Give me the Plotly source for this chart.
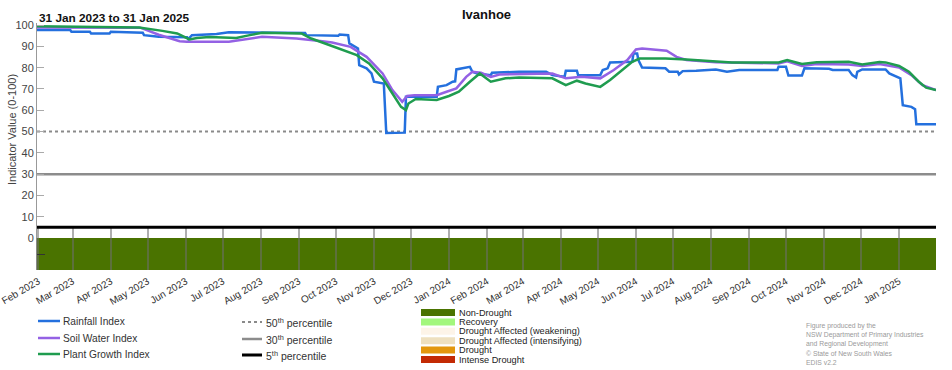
import pandas as pd
import plotly.graph_objects as go

# ---------------- data ----------------
date_start = "2023-01-31"
date_end = "2025-01-31"
station = "Ivanhoe"

rain_points = [
    ("2023-01-31", 97.7), ("2023-02-27", 97.7), ("2023-02-28", 96.9), ("2023-03-15", 96.9),
    ("2023-03-16", 96.1), ("2023-03-31", 96.1), ("2023-04-01", 96.9), ("2023-04-16", 96.6),
    ("2023-04-27", 96.4), ("2023-04-28", 95.3), ("2023-05-10", 94.5), ("2023-06-02", 94.3),
    ("2023-06-03", 93.4), ("2023-06-06", 95.3), ("2023-06-26", 95.8), ("2023-07-06", 96.7),
    ("2023-09-06", 96.3), ("2023-09-07", 95.3), ("2023-10-03", 95.0), ("2023-10-04", 95.6),
    ("2023-10-11", 95.3), ("2023-10-12", 91.4), ("2023-10-19", 89.0), ("2023-10-20", 81.2),
    ("2023-10-26", 79.7), ("2023-10-30", 77.3), ("2023-11-01", 73.4), ("2023-11-09", 72.6),
    ("2023-11-11", 49.3), ("2023-11-26", 49.5), ("2023-11-27", 66.3), ("2023-12-22", 66.3),
    ("2023-12-23", 71.0), ("2023-12-30", 71.8), ("2024-01-04", 73.4), ("2024-01-06", 73.6),
    ("2024-01-07", 79.2), ("2024-01-18", 80.4), ("2024-01-20", 78.1), ("2024-01-24", 77.3),
    ("2024-02-04", 76.5), ("2024-02-05", 77.6), ("2024-02-27", 78.1), ("2024-03-20", 78.1),
    ("2024-03-25", 76.5), ("2024-04-04", 75.7), ("2024-04-05", 78.6), ("2024-04-14", 78.6),
    ("2024-04-15", 76.5), ("2024-05-03", 76.5), ("2024-05-05", 78.9), ("2024-05-09", 79.7),
    ("2024-05-11", 82.5), ("2024-05-29", 82.8), ("2024-05-30", 86.7), ("2024-06-02", 86.7),
    ("2024-06-03", 83.6), ("2024-06-06", 80.1), ("2024-06-25", 79.7), ("2024-06-28", 78.1),
    ("2024-07-05", 78.1), ("2024-07-06", 76.8), ("2024-07-09", 78.4), ("2024-07-20", 78.6),
    ("2024-08-02", 79.0), ("2024-08-05", 79.2), ("2024-08-14", 78.1), ("2024-08-24", 78.9),
    ("2024-09-24", 78.9), ("2024-09-25", 80.4), ("2024-10-01", 80.4), ("2024-10-03", 76.3),
    ("2024-10-14", 76.3), ("2024-10-16", 79.7), ("2024-11-05", 79.5), ("2024-11-08", 78.9),
    ("2024-11-21", 78.9), ("2024-11-24", 76.5), ("2024-11-27", 75.4), ("2024-11-28", 78.1),
    ("2024-12-02", 79.2), ("2024-12-21", 79.2), ("2024-12-24", 77.3), ("2024-12-30", 75.7),
    ("2025-01-02", 75.0), ("2025-01-04", 62.4), ("2025-01-11", 61.6), ("2025-01-14", 60.5),
    ("2025-01-15", 53.4), ("2025-01-31", 53.4),
]

soil_points = [
    ("2023-01-31", 98.9), ("2023-04-25", 98.8), ("2023-05-10", 95.5), ("2023-05-27", 92.4),
    ("2023-06-02", 92.2), ("2023-07-06", 92.2), ("2023-08-02", 94.5), ("2023-08-30", 93.7),
    ("2023-09-20", 92.4), ("2023-09-28", 91.8), ("2023-10-13", 89.8), ("2023-10-26", 85.1),
    ("2023-11-08", 77.3), ("2023-11-16", 69.5), ("2023-11-24", 64.0), ("2023-11-28", 66.7),
    ("2023-12-04", 67.1), ("2023-12-22", 67.1), ("2023-12-30", 68.7), ("2024-01-07", 70.3),
    ("2024-01-15", 75.7), ("2024-01-20", 78.1), ("2024-01-27", 77.6), ("2024-02-04", 75.7),
    ("2024-02-11", 76.8), ("2024-02-27", 77.0), ("2024-03-25", 77.3), ("2024-04-05", 75.0),
    ("2024-04-18", 75.7), ("2024-05-03", 75.0), ("2024-05-14", 78.9), ("2024-05-25", 83.6),
    ("2024-06-01", 88.6), ("2024-06-06", 89.0), ("2024-06-26", 88.0), ("2024-07-04", 85.1),
    ("2024-07-12", 83.6), ("2024-08-05", 82.6), ("2024-09-25", 82.0), ("2024-10-02", 83.0),
    ("2024-10-14", 80.8), ("2024-10-26", 81.7), ("2024-11-21", 81.5), ("2024-12-02", 80.8),
    ("2024-12-16", 81.7), ("2025-01-01", 80.1), ("2025-01-11", 76.5), ("2025-01-20", 71.8),
    ("2025-01-31", 69.5),
]

plant_points = [
    ("2023-01-31", 99.5), ("2023-04-24", 98.9), ("2023-05-13", 97.3), ("2023-05-25", 96.1),
    ("2023-06-04", 93.3), ("2023-06-10", 94.0), ("2023-06-20", 94.4), ("2023-07-12", 94.0),
    ("2023-07-23", 95.3), ("2023-08-02", 96.4), ("2023-09-03", 96.1), ("2023-09-11", 93.7),
    ("2023-09-25", 90.8), ("2023-10-04", 89.0), ("2023-10-18", 85.9), ("2023-10-28", 82.0),
    ("2023-11-08", 75.0), ("2023-11-16", 67.9), ("2023-11-23", 61.6), ("2023-11-27", 60.1),
    ("2023-11-29", 63.2), ("2023-12-05", 65.3), ("2023-12-22", 64.8), ("2024-01-01", 66.7),
    ("2024-01-09", 68.7), ("2024-01-18", 73.4), ("2024-01-26", 77.3), ("2024-02-04", 73.4),
    ("2024-02-16", 75.0), ("2024-02-27", 75.4), ("2024-03-25", 75.0), ("2024-04-05", 71.8),
    ("2024-04-14", 73.9), ("2024-04-21", 72.6), ("2024-05-03", 71.0), ("2024-05-11", 74.2),
    ("2024-05-22", 79.7), ("2024-05-29", 82.8), ("2024-06-04", 84.3), ("2024-06-25", 84.3),
    ("2024-07-12", 83.9), ("2024-08-05", 82.8), ("2024-08-18", 82.5), ("2024-09-25", 82.5),
    ("2024-10-02", 83.6), ("2024-10-14", 81.7), ("2024-10-26", 82.6), ("2024-11-21", 82.8),
    ("2024-12-02", 81.5), ("2024-12-16", 82.7), ("2024-12-21", 82.5), ("2025-01-01", 80.8),
    ("2025-01-09", 78.1), ("2025-01-17", 73.4), ("2025-01-23", 70.6), ("2025-01-31", 69.5),
]

series_names = ["Rainfall Index", "Soil Water Index", "Plant Growth Index"]
series_colors = ["#2470de", "#9461e4", "#1f9c4f"]

percentile_values = [50, 30, 5]
percentile_labels = ["50<sup>th</sup> percentile", "30<sup>th</sup> percentile", "5<sup>th</sup> percentile"]
percentile_colors = ["#8a8a8a", "#8c8c8c", "#000000"]
percentile_dash = ["dot", "solid", "solid"]
percentile_width = [2, 2.5, 3]

# drought category periods (whole period Non-Drought)
drought_start = ["2023-01-31"]
drought_end = ["2025-01-31"]
drought_class = ["Non-Drought"]

category_names = ["Non-Drought", "Recovery", "Drought Affected (weakening)",
                  "Drought Affected (intensifying)", "Drought", "Intense Drought"]
category_colors = ["#4a7300", "#a3f77d", "#fdf4e8", "#eee0bf", "#e3970d", "#c32a04"]

y_ticks = list(range(0, 101, 10))

credit_lines = ["Figure produced by the", "NSW Department of Primary Industries",
                "and Regional Development", "\u00a9 State of New South Wales", "EDIS v2.2"]

# ---------------- layout geometry ----------------
W, H = 952, 370
L, R, T, B = 37, 936, 23, 270
band_top = 238
PW, PH = R - L, B - T
band_frac = (B - band_top) / PH


def px(x):
    return (x - L) / PW


def py(y):
    return (B - y) / PH


FONT = "Liberation Sans, Arial, sans-serif"

fig = go.Figure()

# drought band (bottom subplot)
cat_color = dict(zip(category_names, category_colors))
starts = pd.to_datetime(drought_start)
ends = pd.to_datetime(drought_end)
durations = [(e - s).total_seconds() * 1000 for s, e in zip(starts, ends)]
fig.add_trace(go.Bar(
    orientation="h", y=[0.5] * len(durations), x=durations, base=drought_start,
    width=1, marker=dict(color=[cat_color[c] for c in drought_class], line=dict(width=0)),
    xaxis="x", yaxis="y", showlegend=False, hoverinfo="skip",
))

# percentile lines
for v, c, d, w in zip(percentile_values, percentile_colors, percentile_dash, percentile_width):
    fig.add_trace(go.Scatter(
        x=[date_start, date_end], y=[v, v], mode="lines",
        line=dict(color=c, dash=d, width=w), xaxis="x2", yaxis="y2",
        showlegend=False, hoverinfo="skip",
    ))

# index lines
for pts, name, col in zip([rain_points, soil_points, plant_points], series_names, series_colors):
    fig.add_trace(go.Scatter(
        x=[p[0] for p in pts], y=[p[1] for p in pts], mode="lines", name=name,
        line=dict(color=col, width=2.5), xaxis="x2", yaxis="y2", showlegend=False,
    ))

shapes = []
annotations = []

# legend column 1: indices
leg1_y = [321, 338, 354]
for yy, name, col in zip(leg1_y, series_names, series_colors):
    shapes.append(dict(type="line", xref="paper", yref="paper", x0=px(38), x1=px(60),
                       y0=py(yy), y1=py(yy), line=dict(color=col, width=2.5)))
    annotations.append(dict(xref="paper", yref="paper", x=px(61), y=py(yy), text=name,
                            showarrow=False, xanchor="left", yanchor="middle",
                            font=dict(family=FONT, size=10.2, color="#333")))

# legend column 2: percentiles
leg2_y = [322, 339, 355]
for yy, lab, c, d, w in zip(leg2_y, percentile_labels, percentile_colors, percentile_dash, percentile_width):
    shapes.append(dict(type="line", xref="paper", yref="paper", x0=px(242), x1=px(262),
                       y0=py(yy), y1=py(yy), line=dict(color=c, width=w, dash=d)))
    annotations.append(dict(xref="paper", yref="paper", x=px(264), y=py(yy), text=lab,
                            showarrow=False, xanchor="left", yanchor="middle",
                            font=dict(family=FONT, size=10.5, color="#333")))

# legend column 3: drought categories
for i, (name, col) in enumerate(zip(category_names, category_colors)):
    top = 309 + i * 9.4
    shapes.append(dict(type="rect", xref="paper", yref="paper", x0=px(421), x1=px(455),
                       y0=py(top + 7), y1=py(top), line=dict(width=0), fillcolor=col))
    annotations.append(dict(xref="paper", yref="paper", x=px(457), y=py(top + 3.5), text=name,
                            showarrow=False, xanchor="left", yanchor="middle",
                            font=dict(family=FONT, size=9.2, color="#222")))

# credits
for i, line in enumerate(credit_lines):
    annotations.append(dict(xref="paper", yref="paper", x=px(804), y=py(326 + i * 9.2), text=line,
                            showarrow=False, xanchor="left", yanchor="middle",
                            font=dict(family=FONT, size=6.8, color="#9a9a9a")))

# subtitle & axis title
annotations.append(dict(xref="paper", yref="paper", x=px(37), y=py(18), text="<b>31 Jan 2023 to 31 Jan 2025</b>",
                        showarrow=False, xanchor="left", yanchor="middle",
                        font=dict(family=FONT, size=11.8, color="#111")))
annotations.append(dict(xref="paper", yref="paper", x=px(12), y=py(130), text="Indicator Value (0-100)",
                        showarrow=False, xanchor="center", yanchor="middle", textangle=-90,
                        font=dict(family=FONT, size=11, color="#444")))

fig.update_layout(
    width=W, height=H,
    margin=dict(l=L, r=W - R, t=T, b=H - B, pad=0, autoexpand=False),
    paper_bgcolor="white", plot_bgcolor="white",
    showlegend=False,
    title=dict(text="<b>" + station + "</b>", x=px((L + R) / 2), xref="paper", xanchor="center",
               y=1 - 14 / H, yanchor="middle", font=dict(family=FONT, size=13, color="#111")),
    xaxis=dict(
        type="date", domain=[0, 1], anchor="y", range=[date_start, date_end], automargin=False,
        tick0="2023-02-01", dtick="M1", tickformat="%b %Y", tickangle=-30,
        ticklabeloverflow="allow", ticklabelstandoff=3,
        ticks="inside", ticklen=42, tickwidth=1.5, tickcolor="rgba(110,110,110,0.55)",
        showgrid=False, showline=False, zeroline=False,
        tickfont=dict(family=FONT, size=10, color="#333"),
    ),
    yaxis=dict(
        domain=[0, band_frac], anchor="x", range=[0, 1], tickvals=[0.5], automargin=False,
        ticks="inside", ticklen=8, tickcolor="#333", showticklabels=False,
        showgrid=False, zeroline=False, showline=True, linecolor="#888", linewidth=1,
    ),
    xaxis2=dict(
        type="date", domain=[0, 1], anchor="y2", matches="x", range=[date_start, date_end],
        visible=False, showgrid=False, automargin=False,
    ),
    yaxis2=dict(
        domain=[band_frac, 1], anchor="x2", range=[0, 101], tickvals=y_ticks, automargin=False,
        ticks="inside", ticklen=7, tickcolor="#aaa", tickwidth=1,
        showgrid=False, zeroline=False, showline=True, linecolor="#999", linewidth=1,
        tickfont=dict(family=FONT, size=11, color="#444"),
    ),
    shapes=shapes, annotations=annotations,
)

fig.write_html("out.html", config={"displayModeBar": False},
               post_script="document.body.style.margin='0px';")
